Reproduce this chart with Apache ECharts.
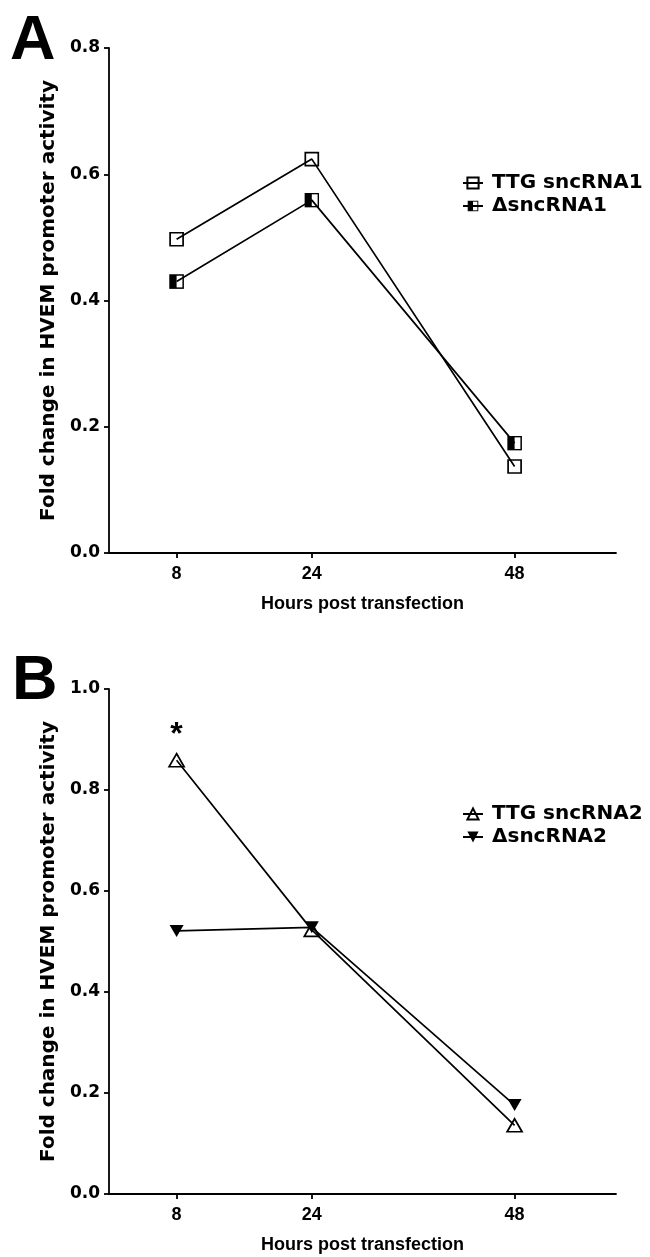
<!DOCTYPE html>
<html>
<head>
<meta charset="utf-8">
<script src="https://cdn.jsdelivr.net/npm/echarts@6/dist/echarts.min.js"></script>
<style>
  html, body { margin: 0; padding: 0; background: #fff; }
  #chart { width: 650px; height: 1257px; }
</style>
</head>
<body>
<div id="chart"></div>
<script>
// hours after transfection (x values)
var hours = [8, 24, 48];
var xTicks = [8, 24, 48];

// panel A
var ttgSncRNA1 = [0.497, 0.624, 0.137];
var delSncRNA1 = [0.430, 0.559, 0.174];

// panel B
var ttgSncRNA2 = [0.859, 0.523, 0.136];
var delSncRNA2 = [0.521, 0.528, 0.176];
var sigMarksB = ["*", "", ""];

var seriesNames = ["TTG sncRNA1", "\u0394sncRNA1", "TTG sncRNA2", "\u0394sncRNA2"];
var panelLabels = ["A", "B"];
var yTitle = "Fold change in HVEM promoter activity";
var xTitle = "Hours post transfection";

function pairs(vals) {
  return vals.map(function (v, i) { return [hours[i], v]; });
}

var halfSquareSvg =
  "<svg xmlns='http://www.w3.org/2000/svg' width='16' height='16'>" +
  "<rect x='1' y='1' width='14' height='14' fill='none' stroke='black' stroke-width='1.6'/>" +
  "<rect x='1' y='1' width='7' height='14' fill='black'/></svg>";
var halfSquare = "image://data:image/svg+xml;charset=utf-8," + encodeURIComponent(halfSquareSvg);
var downTriangle = "path://M0,0L10,0L5,9Z";

var black = "#000";
var tickFont = { fontFamily: "DejaVu Sans", fontWeight: "bold", fontSize: 17, color: black };
var xFont = { fontFamily: "Liberation Sans", fontWeight: "bold", fontSize: 18, color: black };

function xAxis(gi) {
  return {
    type: "value", gridIndex: gi, min: 0, max: 60,
    name: xTitle, nameLocation: "middle", nameGap: 42,
    nameTextStyle: xFont,
    axisLine: { lineStyle: { color: black, width: 1.8 } },
    axisTick: { customValues: xTicks, length: 5, lineStyle: { color: black, width: 1.8 } },
    axisLabel: Object.assign({ customValues: xTicks, margin: 12 }, xFont),
    splitLine: { show: false }
  };
}

function yAxis(gi, max) {
  return {
    type: "value", gridIndex: gi, min: 0, max: max, interval: 0.2,
    name: yTitle, nameLocation: "middle", nameGap: 47, nameRotate: 90,
    nameTextStyle: { fontFamily: "DejaVu Sans", fontWeight: "bold", fontSize: 20, color: black },
    axisLine: { show: true, lineStyle: { color: black, width: 1.8 } },
    axisTick: { show: true, length: 5, lineStyle: { color: black, width: 1.8 } },
    axisLabel: Object.assign({ margin: 9, formatter: function (v) { return v.toFixed(1); } }, tickFont),
    splitLine: { show: false }
  };
}

var lineStyle = { color: black, width: 1.7 };
var legendText = { fontFamily: "DejaVu Sans", fontWeight: "bold", fontSize: 20, color: black, lineHeight: 20, padding: [0, 0, 0, 4] };

var chart = echarts.init(document.getElementById("chart"));
chart.setOption({
  animation: false,
  backgroundColor: "#fff",
  title: [
    { text: panelLabels[0], left: 5, top: 5, textStyle: { fontFamily: "Liberation Sans", fontWeight: "bold", fontSize: 63, color: black } },
    { text: panelLabels[1], left: 7, top: 645, textStyle: { fontFamily: "Liberation Sans", fontWeight: "bold", fontSize: 63, color: black } }
  ],
  grid: [
    { left: 109, right: 34, top: 48, height: 505 },
    { left: 109, right: 34, top: 689, height: 505 }
  ],
  xAxis: [xAxis(0), xAxis(1)],
  yAxis: [yAxis(0, 0.8), yAxis(1, 1.0)],
  legend: [
    {
      data: [seriesNames[0], seriesNames[1]], orient: "vertical", left: 457, top: 168,
      itemWidth: 20, itemHeight: 14, itemGap: 3, textStyle: legendText
    },
    {
      data: [seriesNames[2], seriesNames[3]], orient: "vertical", left: 457, top: 799,
      itemWidth: 20, itemHeight: 14, itemGap: 3, textStyle: legendText
    }
  ],
  series: [
    {
      name: seriesNames[0], type: "line", xAxisIndex: 0, yAxisIndex: 0,
      data: pairs(ttgSncRNA1), symbol: "rect", symbolSize: 13,
      lineStyle: lineStyle,
      itemStyle: { color: "rgba(0,0,0,0)", borderColor: black, borderWidth: 1.7 }
    },
    {
      name: seriesNames[1], type: "line", xAxisIndex: 0, yAxisIndex: 0,
      data: pairs(delSncRNA1), symbol: halfSquare, symbolSize: 15,
      lineStyle: lineStyle, itemStyle: { color: black }
    },
    {
      name: seriesNames[2], type: "line", xAxisIndex: 1, yAxisIndex: 1,
      data: pairs(ttgSncRNA2), symbol: "triangle", symbolSize: [15, 13],
      lineStyle: lineStyle,
      itemStyle: { color: "rgba(0,0,0,0)", borderColor: black, borderWidth: 1.7 },
      label: {
        show: true, position: "top", distance: 2,
        formatter: function (p) { return sigMarksB[p.dataIndex]; },
        fontFamily: "Liberation Sans", fontWeight: "bold", fontSize: 32, color: black
      }
    },
    {
      name: seriesNames[3], type: "line", xAxisIndex: 1, yAxisIndex: 1,
      data: pairs(delSncRNA2), symbol: downTriangle, symbolSize: [14, 12],
      lineStyle: lineStyle, itemStyle: { color: black }
    }
  ]
});
</script>
</body>
</html>
